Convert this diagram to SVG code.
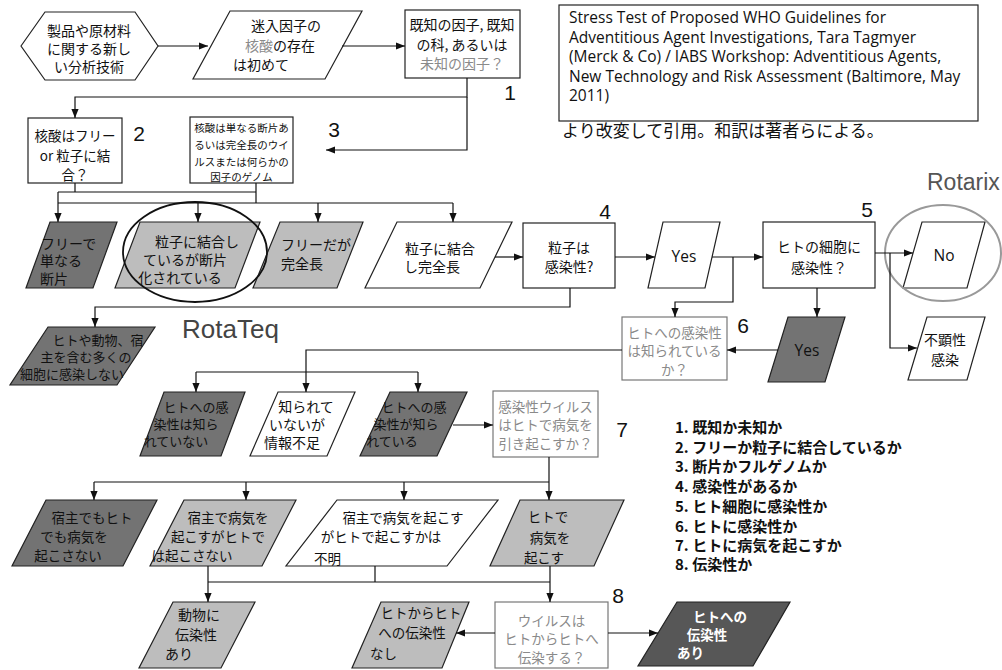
<svg xmlns="http://www.w3.org/2000/svg" width="1002" height="670" viewBox="0 0 1002 670">
<defs>
<style>
.sh{stroke:#222;stroke-width:1.2}
.sg{stroke:#777;stroke-width:1.2}
.dk{fill:#737373}
.dk2{fill:#575757}
.lt{fill:#bdbdbd}
.wh{fill:#fff}
.t{font-family:"Noto Sans CJK JP","Noto Sans CJK SC",sans-serif;font-size:14px;fill:#111;text-anchor:middle}
.s{font-size:13px}
.xs{font-size:10.5px}
.st{text-anchor:start}
.gt{fill:#8a8a8a}
.wt{fill:#fff;font-weight:bold}
.num{font-family:"Liberation Sans",Arial,sans-serif;font-size:21px;fill:#111;text-anchor:middle}
.ref{font-family:"Open Sans","Liberation Sans",sans-serif;font-size:15.5px;fill:#111}
.c path{stroke:#111;stroke-width:1.2;fill:none}
.a{marker-end:url(#ah)}
.leg{font-family:"Noto Sans CJK JP",sans-serif;font-size:15px;font-weight:bold;fill:#111}
</style>
<marker id="ah" viewBox="0 0 10 10" refX="10" refY="5" markerWidth="9" markerHeight="9" orient="auto" markerUnits="userSpaceOnUse">
<path d="M0,1 L10,5 L0,9 z" fill="#111"/>
</marker>
</defs>
<rect width="1002" height="670" fill="#fff"/>

<g id="n-hex"><polygon class="sh wh" points="21,46 45,12 135,12 158,46 135,80 45,80"/>
<text class="t" x="89" y="36">製品や原材料</text><text class="t" x="89" y="54">に関する新し</text><text class="t" x="89" y="72">い分析技術</text></g>

<g id="n-p2"><polygon class="sh wh" points="230,11 362,11 325,79 193,79"/>
<text class="t" x="286" y="31">迷入因子の</text><text class="t" x="280" y="51"><tspan class="gt">核酸</tspan>の存在</text><text class="t" x="261" y="70">は初めて</text></g>

<g id="n-q1"><rect class="sh wh" x="405" y="10" width="115" height="68"/>
<text class="t" x="462" y="30">既知の因子, 既知</text><text class="t" x="462" y="50">の科, あるいは</text><text class="t gt" x="462" y="69">未知の因子？</text></g>

<g id="n-ref"><rect class="sh wh" x="559" y="5" width="419" height="116"/>
<text class="ref" x="569" y="23">Stress Test of Proposed WHO Guidelines for</text>
<text class="ref" x="569" y="43">Adventitious Agent Investigations, Tara Tagmyer</text>
<text class="ref" x="569" y="62">(Merck &amp; Co) / IABS Workshop: Adventitious Agents,</text>
<text class="ref" x="569" y="82">New Technology and Risk Assessment (Baltimore, May</text>
<text class="ref" x="569" y="101">2011)</text>
<text class="t st" style="font-size:17px" x="562" y="137">より改変して引用。和訳は著者らによる。</text></g>

<g id="n-q2"><rect class="sh wh" x="28" y="118" width="94" height="65"/>
<text class="t" style="font-size:13.5px" x="75" y="141">核酸はフリー</text><text class="t" style="font-size:13.5px" x="75" y="161">or 粒子に結</text><text class="t" style="font-size:13.5px" x="75" y="180">合？</text></g>

<g id="n-q3"><rect class="sh wh" x="190" y="117" width="103" height="66"/>
<text class="t xs" x="241.5" y="132">核酸は単なる断片あ</text><text class="t xs" x="241.5" y="149">るいは完全長のウイ</text><text class="t xs" x="241.5" y="166">ルスまたは何らかの</text><text class="t xs" x="241.5" y="181">因子のゲノム</text></g>

<g id="n-a"><polygon class="sh dk" points="50,222 117,222 93,288 26,288"/>
<text class="t st" x="41" y="249">フリーで</text><text class="t st" x="40" y="266">単なる</text><text class="t st" x="40" y="284">断片</text></g>

<g id="n-b"><polygon class="sh lt" points="140,222 260,222 235,288 115,288"/>
<text class="t" x="197" y="247">粒子に結合し</text><text class="t" x="185" y="265">ているが断片</text><text class="t" x="180" y="283">化されている</text></g>

<g id="n-c"><polygon class="sh lt" points="280,222 363,222 337,288 253,288"/>
<text class="t st" x="281" y="250">フリーだが</text><text class="t st" x="281" y="269">完全長</text></g>

<g id="n-d"><polygon class="sh wh" points="397,222 512,222 480,288 365,288"/>
<text class="t st" x="405" y="254">粒子に結合</text><text class="t st" x="404" y="272">し完全長</text></g>

<g id="n-q4"><rect class="sh wh" x="523" y="223" width="92" height="65"/>
<text class="t" x="569" y="253">粒子は</text><text class="t" x="569" y="272">感染性?</text></g>

<g id="n-yes"><polygon class="sh wh" points="663,222 720,222 705,288 648,288"/>
<text class="ref" font-size="15" text-anchor="middle" x="684" y="262">Yes</text></g>

<g id="n-q5"><rect class="sh wh" x="763" y="222" width="112" height="66"/>
<text class="t" x="819" y="252">ヒトの細胞に</text><text class="t" x="819" y="273">感染性？</text></g>

<g id="n-no"><polygon class="sh wh" points="922,222 985,222 967,288 903,288"/>
<text class="ref" text-anchor="middle" x="944" y="261">No</text></g>

<g id="n-sub"><polygon class="sh wh" points="927,317 985,317 967,380 908,380"/>
<text class="t" x="945" y="345">不顕性</text><text class="t" x="945" y="365">感染</text></g>

<g id="n-yes2"><polygon class="sh dk" points="788,317 845,317 825,382 768,382"/>
<text class="ref" text-anchor="middle" x="807" y="356">Yes</text></g>

<g id="n-q6"><rect class="sg wh" x="622" y="317" width="105" height="63"/>
<text class="t gt" style="font-size:13.5px" x="674.5" y="338">ヒトへの感染性</text><text class="t gt" style="font-size:13.5px" x="674.5" y="356">は知られている</text><text class="t gt" style="font-size:13.5px" x="674.5" y="375">か？</text></g>

<g id="n-neg"><polygon class="sh dk" points="48,327 155,327 117,385 10,385"/>
<text class="t s" x="98" y="345">ヒトや動物、宿</text><text class="t s" x="86" y="362">主を含む多くの</text><text class="t s" x="72" y="379">細胞に感染しない</text></g>

<g id="n-r3a"><polygon class="sh dk" points="164,392 245,392 221,456 140,456"/>
<text class="t s" x="196" y="412">ヒトへの感</text><text class="t s" x="186" y="429">染性は知ら</text><text class="t s" x="176" y="446">れていない</text></g>

<g id="n-r3b"><polygon class="sh wh" points="278,392 355,392 327,456 250,456"/>
<text class="t" x="306" y="412">知られて</text><text class="t" x="297" y="430">いないが</text><text class="t" x="292" y="448">情報不足</text></g>

<g id="n-r3c"><polygon class="sh dk" points="390,392 467,392 437,456 360,456"/>
<text class="t s" x="414" y="412">ヒトへの感</text><text class="t s" x="406" y="429">染性が知ら</text><text class="t s" x="392" y="446">れている</text></g>

<g id="n-q7"><rect class="sg wh" x="493" y="391" width="105" height="66"/>
<text class="t gt" style="font-size:13.5px" x="545.5" y="412">感染性ウイルス</text><text class="t gt" style="font-size:13.5px" x="545.5" y="430">はヒトで病気を</text><text class="t gt" style="font-size:13.5px" x="545.5" y="449">引き起こすか？</text></g>

<g id="n-r4a"><polygon class="sh dk" points="46,500 157,500 123,566 12,566"/>
<text class="t" style="font-size:13.5px" x="92" y="523">宿主でもヒト</text><text class="t" style="font-size:13.5px" x="74" y="542">でも病気を</text><text class="t" style="font-size:13.5px" x="68" y="561">起こさない</text></g>

<g id="n-r4b"><polygon class="sh lt" points="184,500 296,500 262,566 150,566"/>
<text class="t" style="font-size:13.5px" x="228" y="523">宿主で病気を</text><text class="t" style="font-size:13.5px" x="218" y="542">起こすがヒトで</text><text class="t" style="font-size:13.5px" x="192" y="561">は起こさない</text></g>

<g id="n-r4c"><polygon class="sh wh" points="337,500 498,500 447,566 286,566"/>
<text class="t" style="font-size:13.5px" x="403" y="523">宿主で病気を起こす</text><text class="t" style="font-size:13.5px" x="381" y="542">がヒトで起こすかは</text><text class="t st" style="font-size:13.5px" x="314" y="564">不明</text></g>

<g id="n-r4d"><polygon class="sh lt" points="520,500 624,500 594,566 490,566"/>
<text class="t" style="font-size:13.5px" x="548" y="522">ヒトで</text><text class="t" style="font-size:13.5px" x="550" y="543">病気を</text><text class="t" style="font-size:13.5px" x="544" y="563">起こす</text></g>

<g id="n-r5a"><polygon class="sh lt" points="173,602 255,602 221,668 139,668"/>
<text class="t" x="199" y="620">動物に</text><text class="t" x="196" y="640">伝染性</text><text class="t st" x="165" y="659">あり</text></g>

<g id="n-r5b"><polygon class="sh lt" points="381,602 469,602 442,668 352,668"/>
<text class="t" style="font-size:13.5px" x="421" y="618">ヒトからヒト</text><text class="t" style="font-size:13.5px" x="412" y="638">への伝染性</text><text class="t st" style="font-size:13.5px" x="370" y="659">なし</text></g>

<g id="n-q8"><rect class="sg wh" x="495" y="602" width="113" height="66"/>
<text class="t gt" style="font-size:13.5px" x="551.5" y="626">ウイルスは</text><text class="t gt" style="font-size:13.5px" x="551.5" y="644">ヒトからヒトへ</text><text class="t gt" style="font-size:13.5px" x="551.5" y="663">伝染する？</text></g>

<g id="n-r5c"><polygon class="sh dk2" points="677,602 790,602 753,666 638,666"/>
<text class="t wt" style="font-size:13.5px" x="720" y="622">ヒトへの</text><text class="t wt" style="font-size:13.5px" x="707" y="640">伝染性</text><text class="t wt st" style="font-size:13.5px" x="677" y="658">あり</text></g>

<g id="labels">
<ellipse cx="195" cy="252" rx="72" ry="50" fill="none" stroke="#111" stroke-width="1.8"/>
<ellipse cx="943" cy="253" rx="58" ry="48" fill="none" stroke="#999" stroke-width="2"/>
<text font-family="Liberation Sans, Arial, sans-serif" font-size="26" fill="#444" x="182" y="338">RotaTeq</text>
<text font-family="Liberation Sans, Arial, sans-serif" font-size="23" fill="#555" x="927" y="190">Rotarix</text>
<text class="num" x="510" y="100">1</text>
<text class="num" x="139" y="141">2</text>
<text class="num" x="334" y="137">3</text>
<text class="num" x="605" y="219">4</text>
<text class="num" x="867" y="217">5</text>
<text class="num" x="743" y="333">6</text>
<text class="num" x="622" y="437">7</text>
<text class="num" x="618" y="603">8</text>
</g>

<g id="legend">
<text class="leg" x="675" y="433">1. 既知か未知か</text>
<text class="leg" x="675" y="453">2. フリーか粒子に結合しているか</text>
<text class="leg" x="675" y="472">3. 断片かフルゲノムか</text>
<text class="leg" x="675" y="492">4. 感染性があるか</text>
<text class="leg" x="675" y="512">5. ヒト細胞に感染性か</text>
<text class="leg" x="675" y="532">6. ヒトに感染性か</text>
<text class="leg" x="675" y="551">7. ヒトに病気を起こすか</text>
<text class="leg" x="675" y="570">8. 伝染性か</text>
</g>

<g id="connectors" class="c">
<path class="a" d="M158,46 H208"/>
<path class="a" d="M342,46 H405"/>
<path class="a" d="M467,78 V97 H75 V118"/>
<path class="a" d="M467,97 V150 H326"/>
<path d="M75,183 V192 M58,192 H256"/>
<path d="M256,183 V203 M58,203 H453"/>
<path class="a" d="M58,192 V222"/>
<path class="a" d="M198,203 V222"/>
<path class="a" d="M318,203 V222"/>
<path class="a" d="M453,203 V222"/>
<path class="a" d="M495,257 H523"/>
<path class="a" d="M615,257 H655"/>
<path class="a" d="M712,257 H763"/>
<path class="a" d="M733,257 V302 H675 V317"/>
<path class="a" d="M570,288 V307 H95 V327"/>
<path class="a" d="M875,253 H913"/>
<path class="a" d="M890,253 V348 H917"/>
<path class="a" d="M817,288 V317"/>
<path class="a" d="M778,350 H727"/>
<path class="a" d="M622,350 H306 V392"/>
<path d="M196,372 H418"/>
<path class="a" d="M196,372 V392"/>
<path class="a" d="M418,372 V392"/>
<path class="a" d="M453,425 H493"/>
<path class="a" d="M549,457 V500"/>
<path d="M94,482 H549"/>
<path class="a" d="M94,482 V500"/>
<path class="a" d="M246,482 V500"/>
<path class="a" d="M404,482 V500"/>
<path class="a" d="M208,566 V602"/>
<path d="M208,582 H550 M375,566 V582"/>
<path class="a" d="M550,566 V602"/>
<path class="a" d="M495,633 H456"/>
<path class="a" d="M608,633 H658"/>
</g>
</svg>
